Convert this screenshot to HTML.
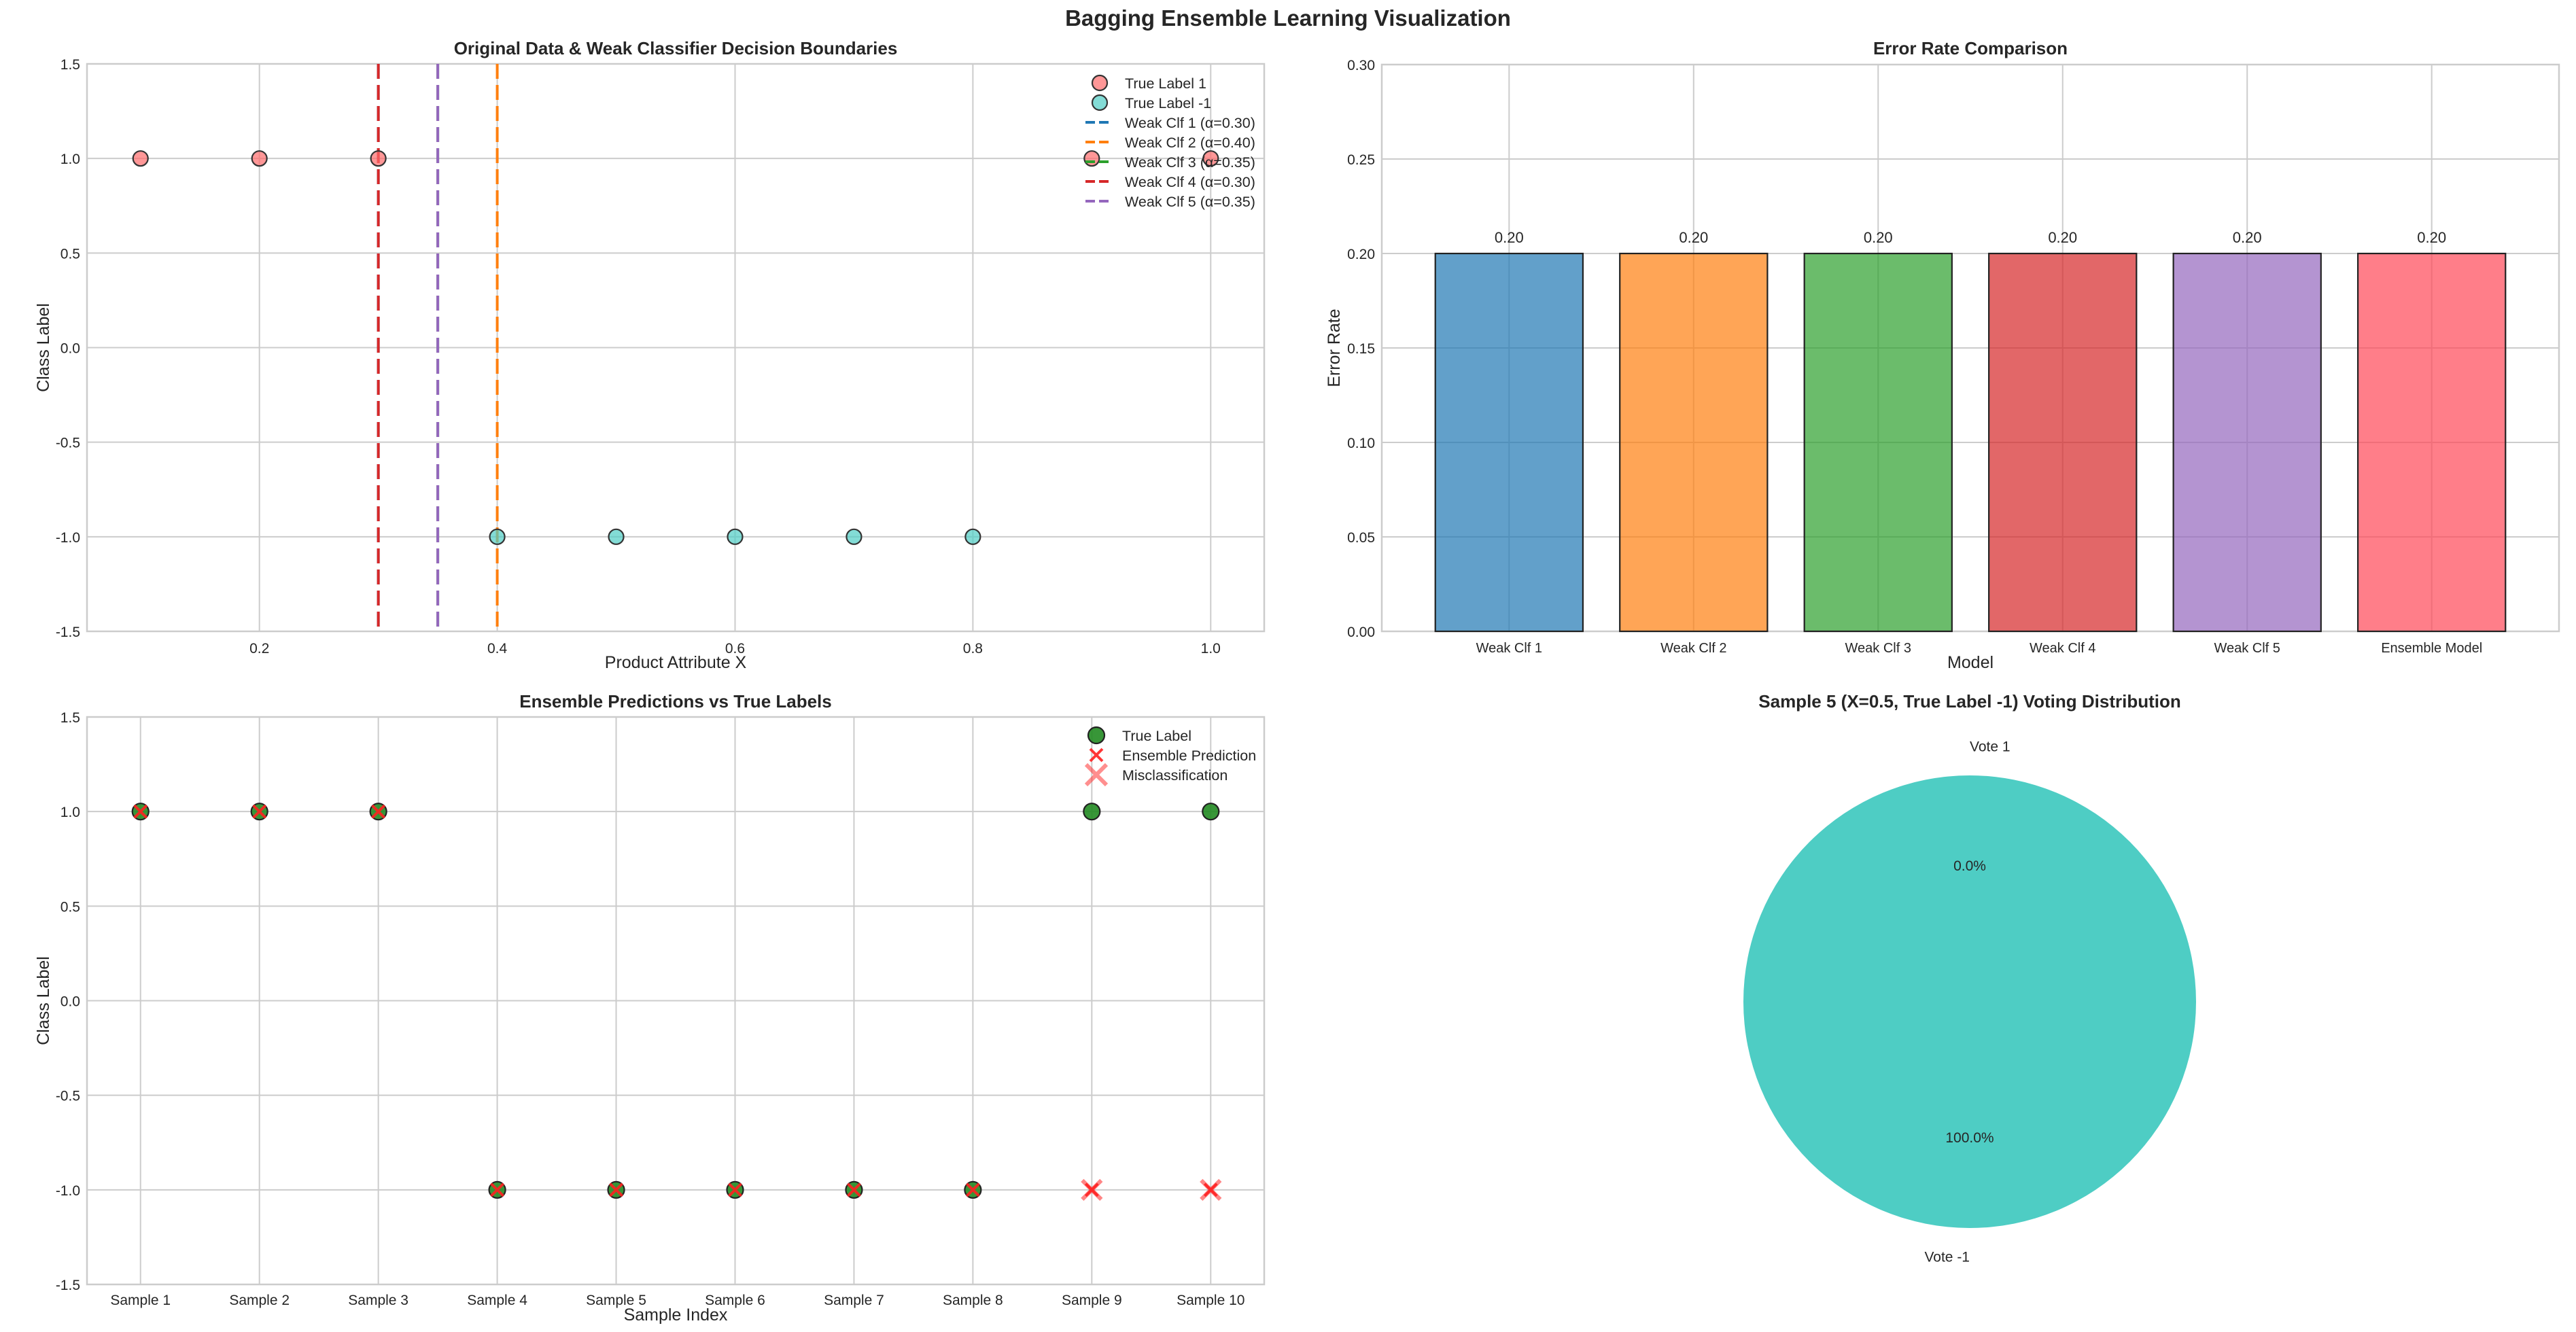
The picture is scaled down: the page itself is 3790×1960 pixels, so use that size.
<!DOCTYPE html>
<html><head><meta charset="utf-8">
<style>
html,body{margin:0;padding:0;background:#fff;}
svg{display:block;font-family:"Liberation Sans",Arial,sans-serif;}
</style></head>
<body>
<svg id="fig" width="3790" height="1960" viewBox="0 0 3790 1960" xmlns="http://www.w3.org/2000/svg">
<rect width="3790" height="1960" fill="#fff"/>
<text x="1895" y="38" font-size="33" font-weight="bold" text-anchor="middle" fill="#262626">Bagging Ensemble Learning Visualization</text>
</svg>
<script>
// ---------- data ----------
const xVals = [0.1,0.2,0.3,0.4,0.5,0.6,0.7,0.8,0.9,1.0];
const trueLabels = [1,1,1,-1,-1,-1,-1,-1,1,1];
const predLabels = [1,1,1,-1,-1,-1,-1,-1,-1,-1];
const clfNames = ["Weak Clf 1","Weak Clf 2","Weak Clf 3","Weak Clf 4","Weak Clf 5"];
const clfThresholds = [0.3,0.4,0.35,0.3,0.35];
const clfAlphas = ["0.30","0.40","0.35","0.30","0.35"];
const clfColors = ["#1f77b4","#ff7f0e","#2ca02c","#d62728","#9467bd"];
const xTicks1 = [0.2,0.4,0.6,0.8,1.0];
const yTicks = [-1.5,-1.0,-0.5,0.0,0.5,1.0,1.5];
const modelNames = ["Weak Clf 1","Weak Clf 2","Weak Clf 3","Weak Clf 4","Weak Clf 5","Ensemble Model"];
const errorRates = [0.20,0.20,0.20,0.20,0.20,0.20];
const barColors = ["#1f77b4","#ff7f0e","#2ca02c","#d62728","#9467bd","#FF4757"];
const errTicks = [0.00,0.05,0.10,0.15,0.20,0.25,0.30];
const sampleNames = ["Sample 1","Sample 2","Sample 3","Sample 4","Sample 5","Sample 6","Sample 7","Sample 8","Sample 9","Sample 10"];
const voteLabels = ["Vote 1","Vote -1"];
const voteCounts = [0,5];
const voteColors = ["#FF6B6B","#4ECDC4"];

const NS = "http://www.w3.org/2000/svg";
const svg = document.getElementById("fig");
function el(tag, attrs, parent, text){
  const e = document.createElementNS(NS, tag);
  for (const k in attrs) e.setAttribute(k, attrs[k]);
  if (text !== undefined) e.textContent = text;
  (parent||svg).appendChild(e);
  return e;
}
const GRID="#cccccc", TXT="#262626";
function lin(d0,d1,p0,p1){return v=>p0+(v-d0)/(d1-d0)*(p1-p0);}
function frame(g,L,T,R,B){
  const f = el("rect",{x:L,y:T,width:R-L,height:B-T,fill:"none",stroke:GRID,"stroke-width":2.5},g);
  
  
}

// ---------- Panel 1 ----------
(function(){
  const L=128,R=1860,T=94,B=929;
  const g = el("g",{});
  
  
  const sx = lin(0.055,1.045,L,R), sy = lin(-1.5,1.5,B,T);
  xTicks1.forEach(t=>{
    const l = el("line",{x1:sx(t),x2:sx(t),y1:T,y2:B,stroke:GRID,"stroke-width":2},g);
    
    
    const tx = el("text",{x:sx(t),y:B+32,"font-size":21,"text-anchor":"middle",fill:TXT},g,t.toFixed(1));
    
    
  });
  yTicks.forEach(t=>{
    const l = el("line",{x1:L,x2:R,y1:sy(t),y2:sy(t),stroke:GRID,"stroke-width":2},g);
    
    
    const tx = el("text",{x:L-10,y:sy(t)+8,"font-size":21,"text-anchor":"end",fill:TXT},g,t.toFixed(1));
    
    
  });
  frame(g,L,T,R,B);
  clfThresholds.forEach((th,i)=>{
    const l = el("line",{x1:sx(th),x2:sx(th),y1:T,y2:B,stroke:clfColors[i],"stroke-width":4,"stroke-dasharray":"22,9"},g);
    
    
  });
  xVals.forEach((x,i)=>{
    const pos = trueLabels[i]===1;
    const c = el("circle",{cx:sx(x),cy:sy(trueLabels[i]),r:11,fill:pos?"#FF6B6B":"#4ECDC4","fill-opacity":0.7,stroke:"#333","stroke-width":2.2},g);
    
    
  });
  const t = el("text",{x:(L+R)/2,y:T-14,"font-size":26,"font-weight":"bold","text-anchor":"middle",fill:TXT},g,"Original Data & Weak Classifier Decision Boundaries");
  
  
  const xl = el("text",{x:(L+R)/2,y:983,"font-size":25,"text-anchor":"middle",fill:TXT},g,"Product Attribute X");
  
  
  const yl = el("text",{x:0,y:0,"font-size":25,"text-anchor":"middle",fill:TXT,transform:`translate(72,${(T+B)/2}) rotate(-90)`},g,"Class Label");
  
  
  const lg = el("g",{},g);
  
  
  const rows = ["True Label 1","True Label -1"].concat(clfNames.map((n,i)=>`${n} (α=${clfAlphas[i]})`));
  rows.forEach((r,i)=>{
    const y = 122 + i*29;
    if(i<2){
      const c = el("circle",{cx:1618,cy:y,r:11,fill:i===0?"#FF6B6B":"#4ECDC4","fill-opacity":0.7,stroke:"#333","stroke-width":2.2},lg);
      
      
    } else {
      const l = el("line",{x1:1597,x2:1635,y1:y,y2:y,stroke:clfColors[i-2],"stroke-width":4,"stroke-dasharray":"14,6"},lg);
      
      
    }
    const tx = el("text",{x:1655,y:y+8,"font-size":21.5,fill:TXT},lg,r);
    
    
  });
})();

// ---------- Panel 2: bars ----------
(function(){
  const L=2033,R=3765,T=95,B=929;
  const g = el("g",{});
  
  
  const n = modelNames.length;
  const sx = lin(-0.69,n-1+0.69,L,R), sy = lin(0,0.30,B,T);
  errTicks.forEach(t=>{
    const l = el("line",{x1:L,x2:R,y1:sy(t),y2:sy(t),stroke:GRID,"stroke-width":2},g);
    
    
    const tx = el("text",{x:L-10,y:sy(t)+8,"font-size":21,"text-anchor":"end",fill:TXT},g,t.toFixed(2));
    
    
  });
  modelNames.forEach((m,i)=>{
    const l = el("line",{x1:sx(i),x2:sx(i),y1:T,y2:B,stroke:GRID,"stroke-width":2},g);
    
    
    const tx = el("text",{x:sx(i),y:B+31,"font-size":20,"text-anchor":"middle",fill:TXT},g,m);
    
    
  });
  frame(g,L,T,R,B);
  errorRates.forEach((v,i)=>{
    const x0 = sx(i-0.4), x1 = sx(i+0.4);
    const r = el("rect",{x:x0,y:sy(v),width:x1-x0,height:sy(0)-sy(v),fill:barColors[i],"fill-opacity":0.7,stroke:"#222","stroke-width":2.2},g);
    
    
    const tx = el("text",{x:sx(i),y:sy(v+0.005)-2,"font-size":22,"text-anchor":"middle",fill:TXT},g,v.toFixed(2));
    
    
  });
  const t = el("text",{x:(L+R)/2,y:T-15,"font-size":26,"font-weight":"bold","text-anchor":"middle",fill:TXT},g,"Error Rate Comparison");
  
  
  const xl = el("text",{x:(L+R)/2,y:983,"font-size":25,"text-anchor":"middle",fill:TXT},g,"Model");
  
  
  const yl = el("text",{x:0,y:0,"font-size":25,"text-anchor":"middle",fill:TXT,transform:`translate(1971,${(T+B)/2}) rotate(-90)`},g,"Error Rate");
  
  
})();

// ---------- Panel 3: predictions ----------
(function(){
  const L=128,R=1860,T=1055,B=1890;
  const g = el("g",{});
  
  
  const n = sampleNames.length;
  const sx = lin(-0.45,n-1+0.45,L,R), sy = lin(-1.5,1.5,B,T);
  sampleNames.forEach((s,i)=>{
    const l = el("line",{x1:sx(i),x2:sx(i),y1:T,y2:B,stroke:GRID,"stroke-width":2},g);
    
    
    const tx = el("text",{x:sx(i),y:B+30,"font-size":21,"text-anchor":"middle",fill:TXT},g,s);
    
    
  });
  yTicks.forEach(t=>{
    const l = el("line",{x1:L,x2:R,y1:sy(t),y2:sy(t),stroke:GRID,"stroke-width":2},g);
    
    
    const tx = el("text",{x:L-10,y:sy(t)+8,"font-size":21,"text-anchor":"end",fill:TXT},g,t.toFixed(1));
    
    
  });
  frame(g,L,T,R,B);
  function cross(cx,cy,h,color,w,op,name){
    const p = el("path",{d:`M${cx-h},${cy-h}L${cx+h},${cy+h}M${cx-h},${cy+h}L${cx+h},${cy-h}`,stroke:color,"stroke-width":w,"stroke-opacity":op,fill:"none"},g);
    
    
    return p;
  }
  trueLabels.forEach((v,i)=>{
    const c = el("circle",{cx:sx(i),cy:sy(v),r:12,fill:"#228B22","fill-opacity":0.9,stroke:"#222","stroke-width":2.2},g);
    
    
  });
  predLabels.forEach((v,i)=>{
    cross(sx(i),sy(v),9,"#ff2020",4,0.9,'ensemble-prediction-marker');
  });
  predLabels.forEach((v,i)=>{
    if(v!==trueLabels[i]) cross(sx(i),sy(v),14,"#ff2020",6,0.55,'misclassification-marker');
  });
  const t = el("text",{x:(L+R)/2,y:T-14,"font-size":26,"font-weight":"bold","text-anchor":"middle",fill:TXT},g,"Ensemble Predictions vs True Labels");
  
  
  const xl = el("text",{x:(L+R)/2,y:1943,"font-size":25,"text-anchor":"middle",fill:TXT},g,"Sample Index");
  
  
  const yl = el("text",{x:0,y:0,"font-size":25,"text-anchor":"middle",fill:TXT,transform:`translate(72,${(T+B)/2}) rotate(-90)`},g,"Class Label");
  
  
  const lg = el("g",{},g);
  
  
  const items = ["True Label","Ensemble Prediction","Misclassification"];
  items.forEach((s,i)=>{
    const y = 1082 + i*29, cx=1613;
    if(i===0){
      const c = el("circle",{cx:cx,cy:y,r:12,fill:"#228B22","fill-opacity":0.9,stroke:"#222","stroke-width":2.2},lg);
      
      
    } else {
      const h = i===1?9:15, w=i===1?4:6, op=i===1?0.9:0.5;
      const p = el("path",{d:`M${cx-h},${y-h}L${cx+h},${y+h}M${cx-h},${y+h}L${cx+h},${y-h}`,stroke:"#ff2020","stroke-width":w,"stroke-opacity":op,fill:"none"},lg);
      
      
    }
    const tx = el("text",{x:1651,y:y+8,"font-size":21.5,fill:TXT},lg,s);
    
    
  });
})();

// ---------- Panel 4: pie ----------
(function(){
  const cx=2898, cy=1474, r=333;
  const g = el("g",{});
  
  
  const total = voteCounts.reduce((a,b)=>a+b,0);
  const slicesG = el("g",{},g);
  
  
  let ang = 90;
  voteCounts.forEach((v,i)=>{
    const sweep = v/total*360;
    const a0 = ang*Math.PI/180, a1 = (ang+sweep)*Math.PI/180;
    const mid = (ang+sweep/2)*Math.PI/180;
    if(sweep>=359.999){
      const c = el("circle",{cx:cx,cy:cy,r:r,fill:voteColors[i]},slicesG);
      
      
    } else if(sweep>0){
      const large = sweep>180?1:0;
      const p = el("path",{d:`M${cx},${cy}L${cx+r*Math.cos(a0)},${cy-r*Math.sin(a0)}A${r},${r} 0 ${large} 0 ${cx+r*Math.cos(a1)},${cy-r*Math.sin(a1)}Z`,fill:voteColors[i]},slicesG);
      
      
    }
    const lx = cx+1.1*r*Math.cos(mid), ly = cy-1.1*r*Math.sin(mid);
    const anchor = Math.cos(mid) > 0 ? "start":"end";
    const vy = Math.sin(mid)>0.5 ? ly-2 : (Math.sin(mid)<-0.5 ? ly+16 : ly+7);
    const lt = el("text",{x:lx,y:vy,"font-size":21,"text-anchor":anchor,fill:TXT},g,voteLabels[i]);
    
    
    const px = cx+0.6*r*Math.cos(mid), py = cy-0.6*r*Math.sin(mid);
    const pt = el("text",{x:px,y:py+7,"font-size":21,"text-anchor":"middle",fill:TXT},g,(v/total*100).toFixed(1)+"%");
    
    
    ang += sweep;
  });
  const t = el("text",{x:cx,y:1041,"font-size":26,"font-weight":"bold","text-anchor":"middle",fill:TXT},g,"Sample 5 (X=0.5, True Label -1) Voting Distribution");
  
  
})();
</script>
</body></html>
